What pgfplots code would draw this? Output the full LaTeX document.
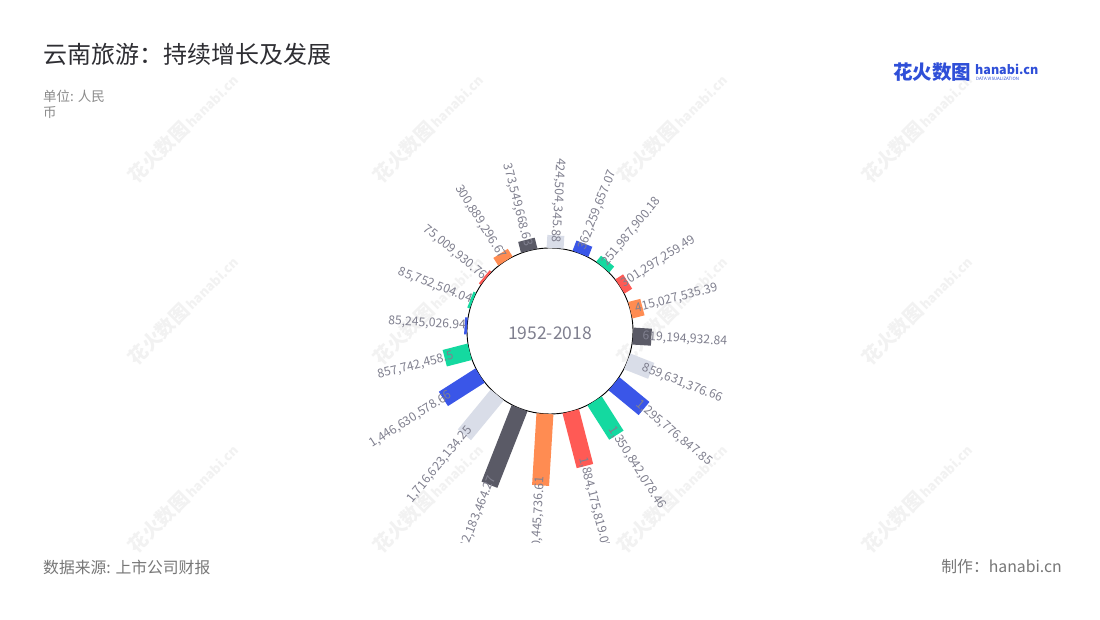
\documentclass[border=0pt]{standalone}
\usepackage{fontspec}
\setmainfont{Noto Sans CJK SC}
\usepackage{pgfplots}
\usepackage{pgfplotstable}
\pgfplotsset{compat=1.18}
\definecolor{cLG}{HTML}{D9DDE8}
\definecolor{cBL}{HTML}{3A56E8}
\definecolor{cGR}{HTML}{14D9A0}
\definecolor{cRD}{HTML}{FF5A55}
\definecolor{cOR}{HTML}{FF8C52}
\definecolor{cDK}{HTML}{5A5A66}
\definecolor{cLab}{HTML}{80808F}
\definecolor{cTitle}{HTML}{2E2E33}
\definecolor{cSub}{HTML}{8C8C8C}
\definecolor{cFoot}{HTML}{777777}
\definecolor{cLogo}{HTML}{2F4FD8}
\definecolor{cWM}{HTML}{F2F2F2}

% a = angle clockwise from top (deg), v = value in millions of RMB
% c = colour index, d = 0 label reads outward, 1 label reads inward
\pgfplotstableread{
k a v c d lab
0 3.5 424.504 0 1 424,504,345.88
1 21.5 362.260 1 0 362,259,657.07
2 39.5 251.988 2 0 251,987,900.18
3 57.5 301.297 3 0 301,297,259.49
4 75.5 415.028 4 0 415,027,535.39
5 93.5 619.195 5 0 619,194,932.84
6 111.5 859.631 0 0 859,631,376.66
7 129.5 1295.777 1 0 1,295,776,847.85
8 147.5 1350.842 2 0 1,350,842,078.46
9 165.5 1884.176 3 0 1,884,175,819.05
10 183.5 2390.446 4 1 2,390,445,736.61
11 201.5 2742.183 5 1 2,742,183,464.27
12 219.5 1716.623 0 1 1,716,623,134.25
13 237.5 1446.631 1 1 1,446,630,578.66
14 255.5 857.742 2 1 857,742,458.5
15 273.5 85.245 1 1 85,245,026.94
16 291.5 85.753 2 1 85,752,504.04
17 309.5 75.010 3 1 75,009,930.76
18 327.5 300.889 4 1 300,889,296.67
19 345.5 373.550 5 1 373,549,668.63
}\data

\newcommand{\CX}{550}
\newcommand{\CY}{289}
\newcommand{\RI}{83}
\newcommand{\VS}{0.0300}

\newcommand{\bars}[2]{%
\addplot[draw=#2, line width=17pt,
  restrict expr to domain={\thisrow{c}}{#1:#1},
  quiver={u={\VS*\thisrow{v}*sin(\thisrow{a})}, v={\VS*\thisrow{v}*cos(\thisrow{a})}}]
  table[x expr={\CX+\RI*sin(\thisrow{a})}, y expr={\CY+\RI*cos(\thisrow{a})}] {\data};}

\newcommand{\labs}[3]{%
\addplot[draw=none, mark=none,
  restrict expr to domain={\thisrow{d}}{#1:#1},
  point meta=explicit symbolic,
  visualization depends on={#2-\thisrow{a} \as \lrot},
  nodes near coords,
  every node near coord/.append style={anchor=#3, rotate=\lrot, inner sep=0pt,
     font=\fontsize{12.2}{14}\selectfont, text=cLab}]
  table[x expr={\CX+(\RI+\VS*\thisrow{v}-min(9,0.6*\VS*\thisrow{v}))*sin(\thisrow{a})},
        y expr={\CY+(\RI+\VS*\thisrow{v}-min(9,0.6*\VS*\thisrow{v}))*cos(\thisrow{a})},
        meta=lab] {\data};}

\newcommand{\wm}[2]{\node[rotate=45, text=cWM, font=\bfseries\fontsize{19}{22}\selectfont, inner sep=0pt] at (axis cs:#1,#2) {花火数图\,\fontsize{13}{16}\selectfont hanabi.cn};}

\begin{document}
\begin{tikzpicture}
\begin{axis}[at={(0pt,0pt)}, anchor=south west,
  width=1100pt, height=620pt, scale only axis, hide axis,
  xmin=0, xmax=1100, ymin=0, ymax=620, clip=false]
\fill[white] (rel axis cs:0,0) rectangle (rel axis cs:1,1);
% watermarks
\wm{183}{492}\wm{428}{492}\wm{672}{492}\wm{917}{492}
\wm{183}{310}\wm{428}{310}\wm{672}{310}\wm{917}{310}
\wm{183}{122}\wm{428}{122}\wm{672}{122}\wm{917}{122}
\draw[black, line width=0.9pt] (axis cs:\CX,\CY) circle[radius=83pt];
\bars{0}{cLG}
\bars{1}{cBL}
\bars{2}{cGR}
\bars{3}{cRD}
\bars{4}{cOR}
\bars{5}{cDK}
\node[text=cLab, font=\fontsize{17.5}{20}\selectfont, inner sep=0pt] at (axis cs:550,287) {1952-2018};
\node[anchor=west, inner sep=0pt, text=cTitle, font=\fontsize{24}{28}\selectfont] at (axis cs:43,566) {云南旅游：持续增长及发展};
\node[anchor=west, inner sep=0pt, text=cSub, font=\fontsize{13.5}{16}\selectfont] at (axis cs:43,524) {单位: 人民};
\node[anchor=west, inner sep=0pt, text=cSub, font=\fontsize{13.5}{16}\selectfont] at (axis cs:43,507) {币};
\node[anchor=west, inner sep=0pt, text=cFoot, font=\fontsize{15.8}{18}\selectfont] at (axis cs:43,53) {数据来源: 上市公司财报};
\node[anchor=east, inner sep=0pt, text=cFoot, font=\fontsize{15.8}{18}\selectfont] at (axis cs:1062,53) {制作：hanabi.cn};
\node[anchor=west, inner sep=0pt, text=cLogo, font=\bfseries\fontsize{19.5}{22}\selectfont] at (axis cs:893,548) {花火数图};
\node[anchor=west, inner sep=0pt, text=cLogo, font=\bfseries\fontsize{12.5}{14}\selectfont] at (axis cs:975,551) {hanabi.cn};
\node[anchor=west, inner sep=0pt, text=cLogo, font=\fontsize{4.4}{5}\selectfont] at (axis cs:976,541) {DATA VISUALIZATION};
\end{axis}
\begin{axis}[at={(0pt,77pt)}, anchor=south west,
  width=1100pt, height=543pt, scale only axis, hide axis,
  xmin=0, xmax=1100, ymin=77, ymax=620, clip=true, clip marker paths=true]
\labs{0}{90}{west}
\labs{1}{270}{east}
\end{axis}
\end{tikzpicture}
\end{document}
